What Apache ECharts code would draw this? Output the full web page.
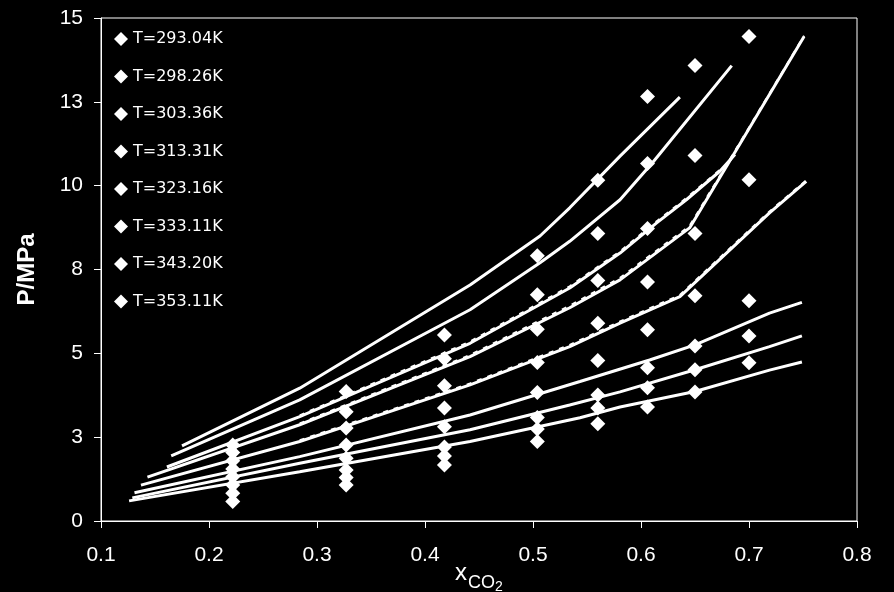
<!DOCTYPE html>
<html>
<head>
<meta charset="utf-8">
<script src="https://cdn.jsdelivr.net/npm/echarts@6/dist/echarts.min.js"></script>
<style>
html,body{margin:0;padding:0;background:#000;}
#c{width:894px;height:592px;}
</style>
</head>
<body>
<div id="c"></div>
<script>
// ---- data ----
const temps = ['T=293.04K','T=298.26K','T=303.36K','T=313.31K','T=323.16K','T=333.11K','T=343.20K','T=353.11K'];
const xExp = [0.222, 0.327, 0.418, 0.504, 0.560, 0.606, 0.650, 0.700];
const p293 = [0.58, 1.07, 1.67, 2.37, 2.90, 3.40, 3.85, 4.72];
const p298 = [0.83, 1.30, 1.94, 2.74, 3.37, 3.97, 4.51, 5.52];
const p303 = [1.07, 1.52, 2.21, 3.09, 3.76, 4.57, 5.22, 6.57];
const p313 = [1.32, 1.87, 2.81, 3.83, 4.79, 5.70, 6.72, 10.18];
const p323 = [1.55, 2.27, 3.37, 4.73, 5.90, 7.13, 8.57, 14.45];
const p333 = [1.80, 2.77, 4.03, 5.72, 7.17, 8.72, 10.90, null];
const p343 = [2.04, 3.26, 4.84, 6.75, 8.57, 10.66, 13.58, null];
const p353 = [2.27, 3.86, 5.55, 7.91, 10.16, 12.66, null, null];

// model curves (solid)
const cx293 = [0.126, 0.284, 0.4417, 0.5435, 0.5806, 0.650, 0.719, 0.749];
const cp293 = [0.60, 1.47, 2.37, 3.08, 3.40, 3.86, 4.50, 4.74];
const cx298 = [0.129, 0.284, 0.4417, 0.534, 0.5806, 0.650, 0.719, 0.749];
const cp298 = [0.69, 1.72, 2.72, 3.46, 3.85, 4.51, 5.20, 5.52];
const cx303 = [0.131, 0.284, 0.4417, 0.5435, 0.608, 0.650, 0.719, 0.749];
const cp303 = [0.84, 1.92, 3.16, 4.16, 4.80, 5.25, 6.20, 6.52];
const cx313 = [0.137, 0.284, 0.4417, 0.534, 0.5806, 0.636, 0.719, 0.753];
const cp313 = [1.07, 2.37, 4.06, 5.20, 5.90, 6.69, 9.19, 10.13];
const cx323 = [0.143, 0.284, 0.4417, 0.534, 0.5806, 0.645, 0.700, 0.751];
const cp323 = [1.31, 2.87, 4.90, 6.36, 7.19, 8.74, 11.70, 14.45];
const cx333 = [0.161, 0.284, 0.4417, 0.534, 0.5806, 0.6145, 0.642, 0.673, 0.687];
const cp333 = [1.61, 3.11, 5.30, 6.95, 7.99, 8.89, 9.58, 10.43, 10.93];
const cx343 = [0.165, 0.284, 0.4417, 0.5065, 0.534, 0.5806, 0.611, 0.684];
const cp343 = [1.94, 3.61, 6.30, 7.70, 8.34, 9.58, 10.70, 13.58];
const cx353 = [0.175, 0.284, 0.4417, 0.5065, 0.534, 0.5806, 0.636];
const cp353 = [2.24, 3.96, 7.04, 8.50, 9.34, 10.88, 12.64];

// second model (dashed), almost coincident with the solid curves
const dx313 = [0.284, 0.4417, 0.534, 0.5806, 0.636, 0.719, 0.753];
const dp313 = [2.41, 4.10, 5.25, 5.95, 6.74, 9.23, 10.16];
const dx323 = [0.284, 0.4417, 0.534, 0.5806, 0.645, 0.700, 0.751];
const dp323 = [2.91, 4.95, 6.42, 7.25, 8.80, 11.73, 14.47];
const dx333 = [0.284, 0.4417, 0.534, 0.5806, 0.6145, 0.642, 0.673];
const dp333 = [3.15, 5.35, 7.00, 8.04, 8.94, 9.63, 10.47];

const xTicks = [0.1, 0.2, 0.3, 0.4, 0.5, 0.6, 0.7, 0.8];
const yTicks = [0, 3, 5, 8, 10, 13, 15];

// ---- build ----
const expSets = [p293, p298, p303, p313, p323, p333, p343, p353];
const curveX = [cx293, cx298, cx303, cx313, cx323, cx333, cx343, cx353];
const curveP = [cp293, cp298, cp303, cp313, cp323, cp333, cp343, cp353];
const dashX = [dx313, dx323, dx333];
const dashP = [dp313, dp323, dp333];

const series = [];
curveX.forEach((xs, i) => {
  series.push({
    name: 'model' + i,
    type: 'line',
    data: xs.map((x, k) => [x, curveP[i][k]]),
    symbol: 'none',
    silent: true,
    z: 2,
    lineStyle: { color: '#fff', width: 3, opacity: 1 }
  });
});
dashX.forEach((xs, i) => {
  series.push({
    name: 'modelB' + i,
    type: 'line',
    data: xs.map((x, k) => [x, dashP[i][k]]),
    symbol: 'none',
    silent: true,
    z: 2,
    lineStyle: { color: '#fff', width: 2, type: [5, 6], opacity: 1 }
  });
});
expSets.forEach((ps, i) => {
  series.push({
    name: temps[i],
    type: 'scatter',
    data: xExp.map((x, k) => ps[k] == null ? null : [x, ps[k]]).filter(d => d),
    symbol: 'diamond',
    symbolSize: 15,
    z: 3,
    itemStyle: { color: '#fff', opacity: 1 }
  });
});

const chart = echarts.init(document.getElementById('c'), null, { renderer: 'canvas' });
chart.setOption({
  backgroundColor: '#000',
  animation: false,
  grid: { left: 101, right: 37, top: 18, bottom: 71, show: true, borderColor: '#fff', borderWidth: 1, outerBoundsMode: 'none' },
  legend: {
    data: temps.slice(),
    orient: 'vertical',
    left: 114,
    top: 31,
    padding: 0,
    itemWidth: 14,
    itemHeight: 14,
    itemGap: 21.5,
    icon: 'diamond',
    itemStyle: { color: '#fff', opacity: 1 },
    textStyle: { color: '#fff', fontFamily: 'DejaVu Sans', fontSize: 16 },
    selectedMode: false
  },
  xAxis: {
    type: 'value',
    min: 0.1, max: 0.8, interval: 0.1,
    axisLine: { show: true, lineStyle: { color: '#fff', width: 1 } },
    axisTick: { show: true, inside: false, length: 7, lineStyle: { color: '#fff' } },
    splitLine: { show: false },
    axisLabel: { color: '#fff', fontFamily: 'Liberation Sans', fontSize: 21, margin: 24,
      formatter: v => { const t = xTicks.find(a => Math.abs(a - v) < 1e-6); return t == null ? '' : t.toFixed(1); } },
    name: '{a|x}{b|CO}{c|2}',
    nameLocation: 'middle',
    nameGap: 40,
    nameMoveOverlap: false,
    nameTextStyle: {
      color: '#fff',
      rich: {
        a: { color: '#fff', fontFamily: 'Liberation Sans', fontSize: 24, verticalAlign: 'bottom', padding: [0, 1, 9, 0] },
        b: { color: '#fff', fontFamily: 'Liberation Sans', fontSize: 18, verticalAlign: 'bottom', padding: [0, 0, 2, 0] },
        c: { color: '#fff', fontFamily: 'Liberation Sans', fontSize: 14, verticalAlign: 'bottom', padding: [0, 0, 0, 0] }
      }
    }
  },
  yAxis: {
    type: 'value',
    min: 0, max: 15, interval: 2.5,
    axisLine: { show: true, lineStyle: { color: '#fff', width: 1 } },
    axisTick: { show: true, inside: false, length: 7, lineStyle: { color: '#fff' } },
    splitLine: { show: false },
    axisLabel: { color: '#fff', fontFamily: 'Liberation Sans', fontSize: 21, margin: 18,
      formatter: v => { const r = Math.round(v); return yTicks.indexOf(r) >= 0 ? String(r) : ''; } },
    name: 'P/MPa',
    nameLocation: 'middle',
    nameRotate: 90,
    nameGap: 62,
    nameMoveOverlap: false,
    nameTextStyle: { color: '#fff', fontFamily: 'Liberation Sans', fontSize: 24, fontWeight: 'bold' }
  },
  series: series
});
</script>
</body>
</html>
